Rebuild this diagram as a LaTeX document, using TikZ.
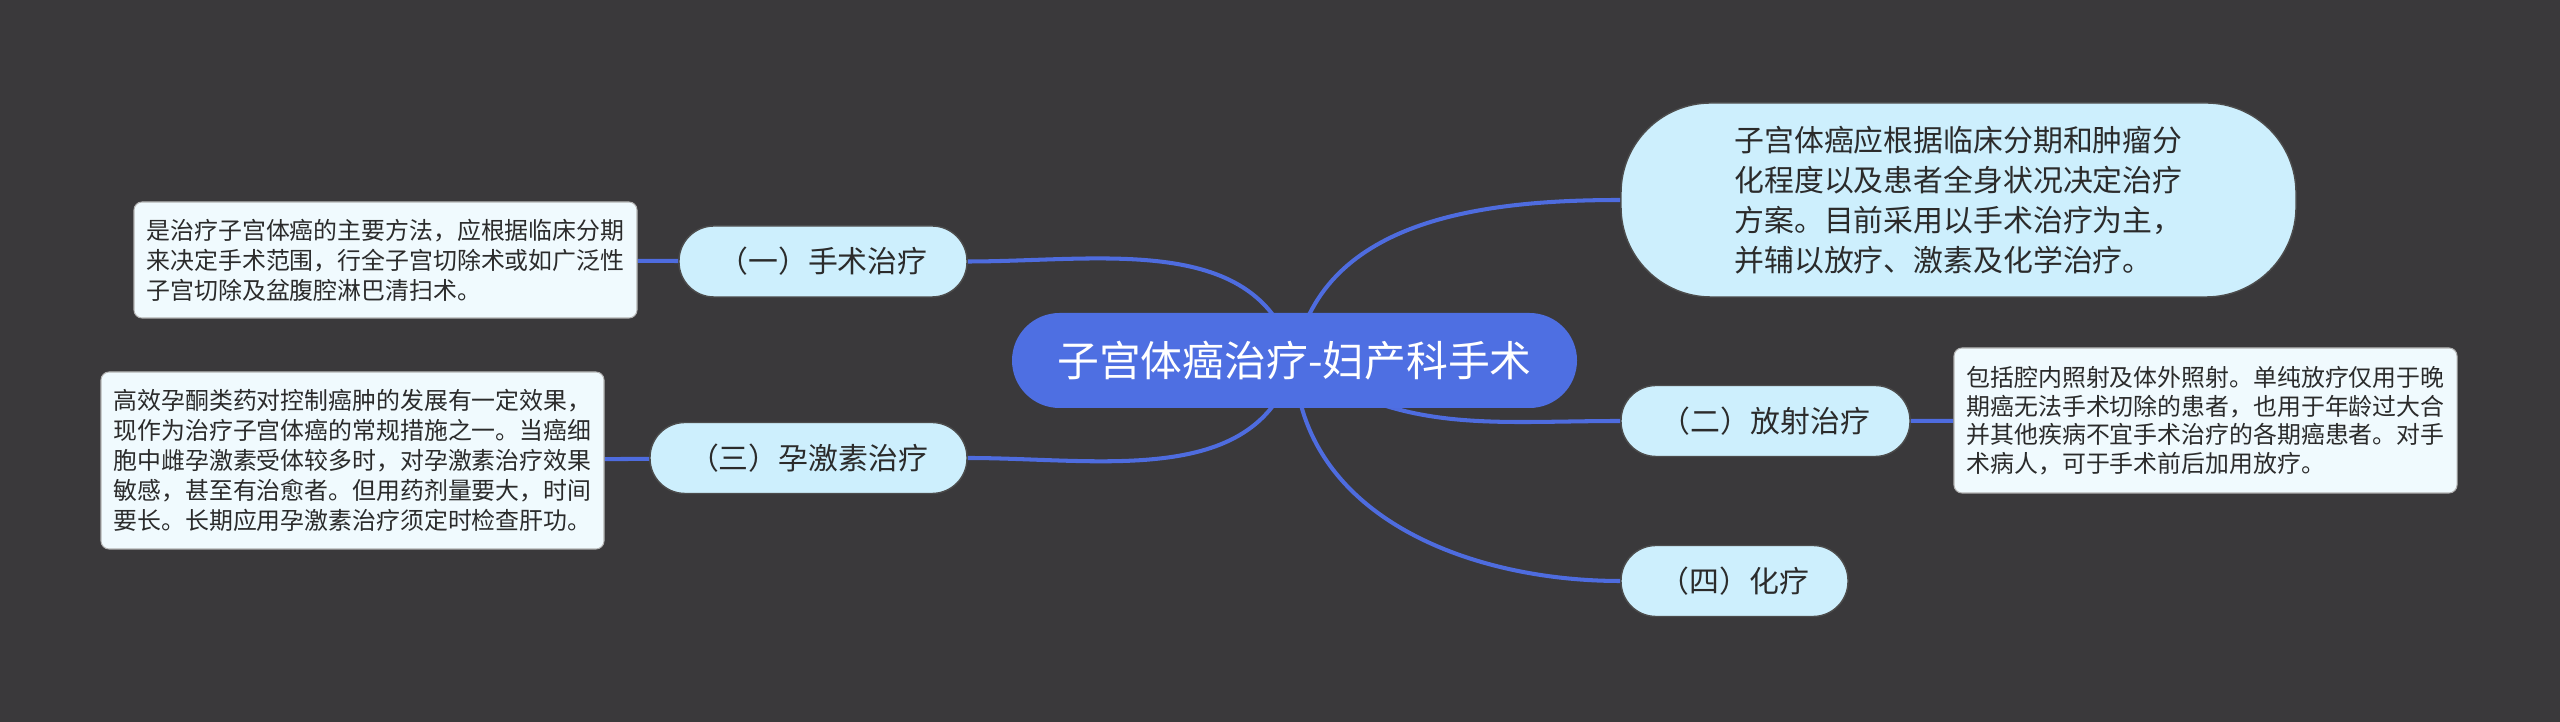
\documentclass[tikz,border=0pt]{standalone}
\usepackage{fontspec}
\setmainfont{Noto Sans CJK SC}
\usetikzlibrary{backgrounds}

\definecolor{backdrop}{HTML}{3A393B}
\definecolor{rootblue}{HTML}{4E6FE2}
\definecolor{linkblue}{HTML}{4E6CDF}
\definecolor{topicfill}{HTML}{CDEFFD}
\definecolor{leaffill}{HTML}{F0FAFE}
\definecolor{textgray}{HTML}{2B2B2B}

\begin{document}
\begin{tikzpicture}[
    rootbox/.style={rectangle, rounded corners=0.475cm, minimum width=5.65cm, minimum height=0.95cm, text centered, fill=rootblue, text=white, font=\fontsize{11.9}{13.5}\selectfont},
    topic/.style={rectangle, rounded corners=0.35cm, minimum height=0.71cm, text centered, draw=black!70, line width=0.4pt, fill=topicfill, text=textgray, font=\fontsize{8.5}{10}\selectfont},
    summarybox/.style={rectangle, rounded corners=0.9cm, minimum width=6.75cm, minimum height=1.94cm, align=left, draw=black!70, line width=0.4pt, fill=topicfill, text=textgray, font=\fontsize{8.5}{11.4}\selectfont},
    leaf/.style={rectangle, rounded corners=0.08cm, minimum width=5.03cm, align=left, draw=gray!60, line width=0.3pt, fill=leaffill, text=textgray, font=\fontsize{6.8}{8.5}\selectfont},
    branch/.style={line width=1.15pt, draw=linkblue}]

    \useasboundingbox (0,0) rectangle (25.6,7.22);

    \node (root) [rootbox] at (12.945,3.615) {子宫体癌治疗-妇产科手术};

    \node (summary) [summarybox] at (19.585,5.22) {子宫体癌应根据临床分期和肿瘤分\\化程度以及患者全身状况决定治疗\\方案。目前采用以手术治疗为主，\\并辅以放疗、激素及化学治疗。};
    \node (surgery) [topic, minimum width=2.88cm] at (8.23,4.605) {（一）手术治疗};
    \node (radio) [topic, minimum width=2.89cm] at (17.655,3.01) {（二）放射治疗};
    \node (hormone) [topic, minimum width=3.17cm] at (8.085,2.64) {（三）孕激素治疗};
    \node (chemo) [topic, minimum width=2.27cm] at (17.345,1.41) {（四）化疗};

    \node (surgeryNote) [leaf, minimum height=1.16cm] at (3.855,4.62) {是治疗子宫体癌的主要方法，应根据临床分期\\来决定手术范围，行全子宫切除术或如广泛性\\子宫切除及盆腹腔淋巴清扫术。};
    \node (radioNote) [leaf, minimum height=1.45cm, font=\fontsize{6.8}{8.1}\selectfont] at (22.055,3.015) {包括腔内照射及体外照射。单纯放疗仅用于晚\\期癌无法手术切除的患者，也用于年龄过大合\\并其他疾病不宜手术治疗的各期癌患者。对手\\术病人，可于手术前后加用放疗。};
    \node (hormoneNote) [leaf, minimum height=1.77cm] at (3.525,2.615) {高效孕酮类药对控制癌肿的发展有一定效果，\\现作为治疗子宫体癌的常规措施之一。当癌细\\胞中雌孕激素受体较多时，对孕激素治疗效果\\敏感，甚至有治愈者。但用药剂量要大，时间\\要长。长期应用孕激素治疗须定时检查肝功。};

    \begin{pgfonlayer}{background}
    \fill [backdrop] (0,0) rectangle (25.6,7.22);
    \draw [branch] (root.center) to[out=105,in=0] (surgery.east);
    \draw [branch] (root.center) to[out=-105,in=0] (hormone.east);
    \draw [branch] (root.center) to[out=80,in=180] (summary.west);
    \draw [branch] (root.center) to[out=-35,in=180] (radio.west);
    \draw [branch] (root.center) to[out=-88,in=180] (chemo.west);
    \draw [branch] (surgery) -- (surgeryNote);
    \draw [branch] (hormone) -- (hormoneNote);
    \draw [branch] (radio) -- (radioNote);
    \end{pgfonlayer}

  \end{tikzpicture}
\end{document}
